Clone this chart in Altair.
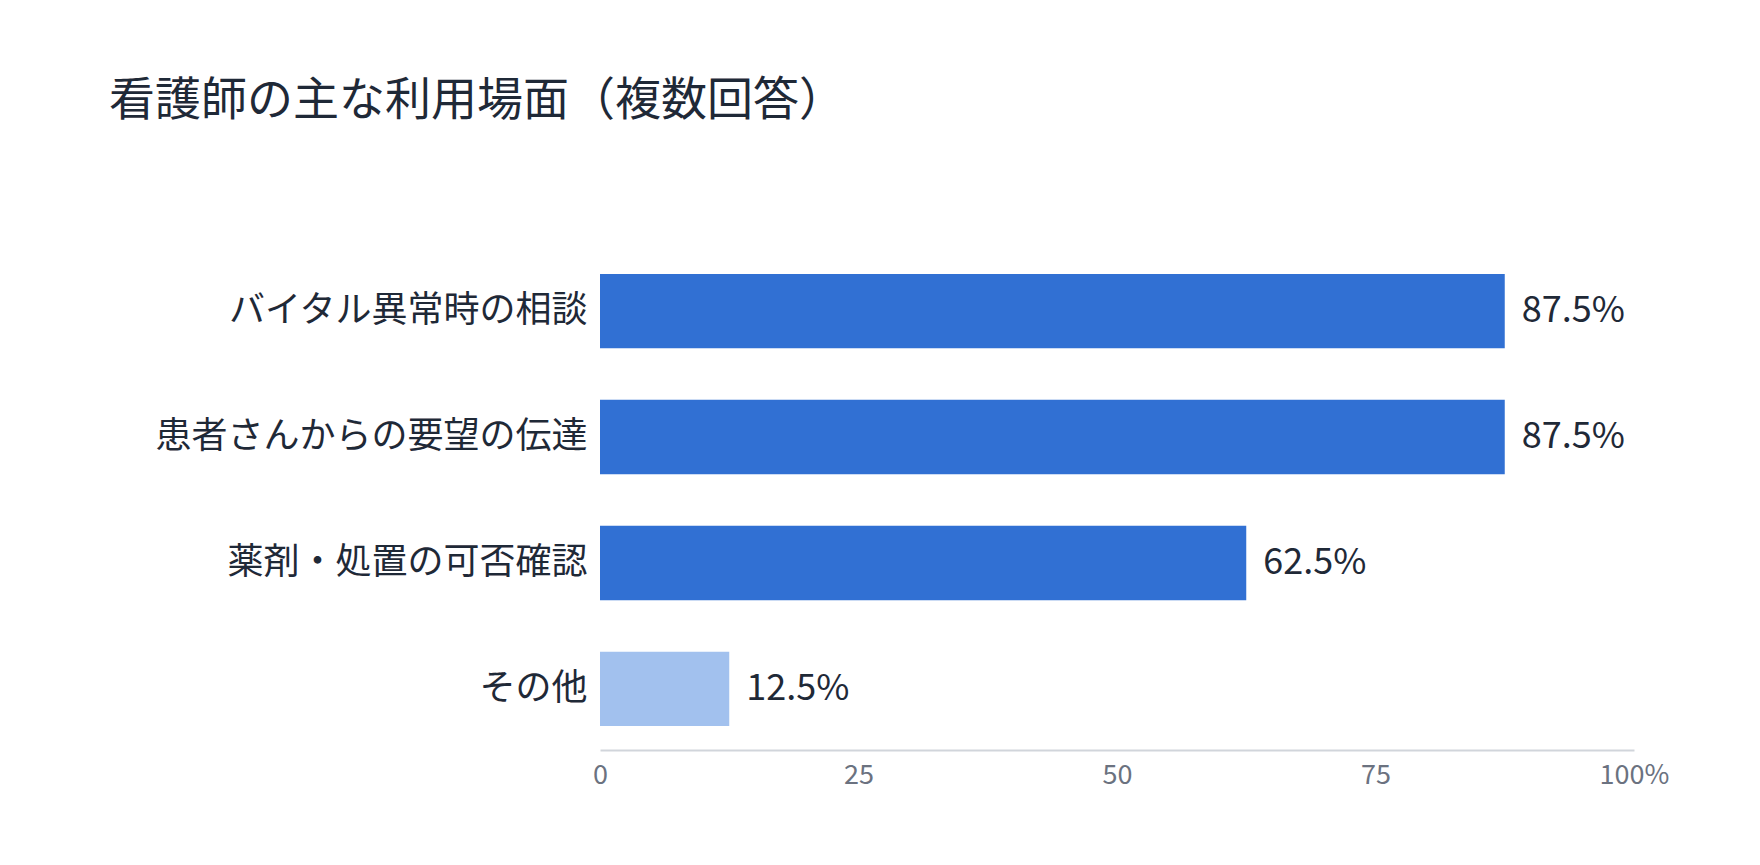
import altair as alt
import pandas as pd

categories = ["バイタル異常時の相談", "患者さんからの要望の伝達", "薬剤・処置の可否確認", "その他"]
values = [87.5, 87.5, 62.5, 12.5]
x_ticks = [0, 25, 50, 75, 100]
title_text = "看護師の主な利用場面（複数回答）"

df = pd.DataFrame({"category": categories, "value": values})

FONT = "Noto Sans CJK JP"
DARK = "#1f2937"

base = alt.Chart(df).encode(
    y=alt.Y(
        "category:N",
        sort=categories,
        scale=alt.Scale(paddingInner=0.41, paddingOuter=0.19),
        axis=alt.Axis(
            title=None, domain=False, ticks=False, labelPadding=13,
            labelFontSize=36, labelColor=DARK, labelFont=FONT, labelLimit=0,
        ),
    ),
)

bars = base.mark_bar().encode(
    x=alt.X(
        "value:Q",
        scale=alt.Scale(domain=[0, 100], nice=False),
        axis=alt.Axis(
            values=x_ticks, title=None, grid=False, ticks=False,
            domainColor="#d1d5db", domainWidth=2,
            labelFontSize=27, labelColor="#6b7280", labelFont=FONT,
            labelPadding=12, labelFlush=False,
            labelExpr="datum.value == 100 ? '100%' : datum.label",
        ),
    ),
    color=alt.condition(alt.datum.category == "その他", alt.value("#a2c1ee"), alt.value("#3170d3")),
)

labels = base.mark_text(
    align="left", baseline="middle", dx=17, fontSize=36, font=FONT, color=DARK
).encode(
    x="value:Q",
    text="label:N",
).transform_calculate(label="format(datum.value, '.1f') + '%'")

chart = (
    alt.layer(bars, labels)
    .properties(
        width=1034,
        height=500,
        autosize="none",
        background="white",
        padding={"left": 592, "top": 242, "right": 110, "bottom": 100},
        title=alt.TitleParams(
            text=title_text, anchor="start", frame="group", dx=-491, offset=79,
            fontSize=46, font=FONT, color=DARK, fontWeight="normal", baseline="bottom",
        ),
    )
    .configure_view(stroke="transparent", strokeWidth=0)
)

chart.save("out.html", embed_options={"renderer": "svg", "actions": False})
